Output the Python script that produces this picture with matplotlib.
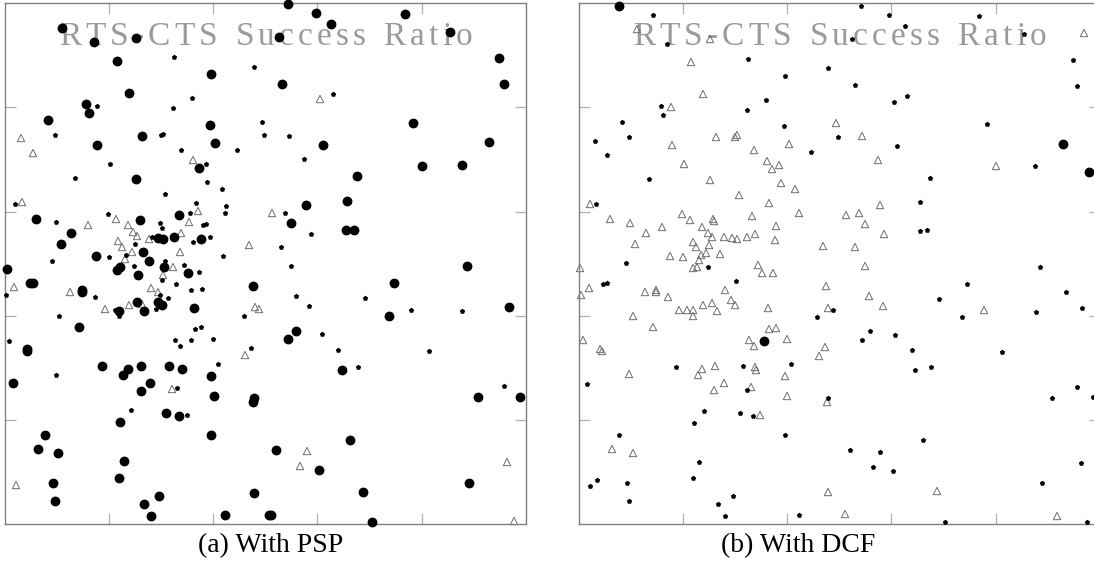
import matplotlib
matplotlib.use("Agg")
import matplotlib.pyplot as plt
import numpy as np

# node positions (simulation area units), panel (a) With PSP
psp_big = [(57,496),(89,482),(131,486),(112,463),(206,450),(124,431),(81,420),(84,411),(43,404),
           (205,399),(137,388),(92,379),(210,381),(194,356),(131,345),(31,305),(135,304),(174,309),
           (66,291),(153,286),(158,285),(169,287),(196,285),(56,280),(138,272),(91,268),(144,263),
           (115,257),(112,254),(159,257),(2,255),(283,520),(311,511),(400,510),(326,500),(445,492),
           (274,487),(494,466),(499,440),(277,440),(408,401),(318,379),(484,382),(417,358),(457,359),
           (352,348),(342,323),(301,319),(286,301),(341,294),(349,294),(462,258),(133,249),(183,251),
           (25,241),(28,241),(77,234),(77,232),(248,238),(114,213),(132,222),(139,213),(153,222),
           (157,219),(189,216),(74,197),(22,175),(22,173),(97,158),(123,155),(118,149),(136,158),
           (164,158),(177,155),(206,148),(8,141),(145,141),(136,133),(209,128),(249,126),(248,122),
           (161,111),(174,108),(115,102),(40,89),(206,89),(33,75),(53,71),(119,63),(114,46),(48,41),
           (50,23),(249,31),(154,28),(139,20),(146,8),(220,9),(264,9),(389,241),(504,217),(384,208),
           (291,193),(283,185),(337,154),(473,127),(515,127),(345,84),(271,74),(314,54),(358,32),
           (464,41),(266,9),(367,2)]
psp_small = [(169,467),(249,457),(187,426),(92,418),(168,416),(257,402),(259,389),(50,389),(156,389),
             (158,390),(176,374),(232,374),(105,360),(201,360),(70,346),(202,342),(217,335),(160,330),
             (10,320),(191,321),(221,318),(220,311),(103,310),(51,302),(185,311),(155,301),(157,296),
             (198,299),(201,300),(147,287),(188,282),(205,287),(130,280),(104,267),(121,269),(218,268),
             (47,263),(129,258),(160,263),(179,259),(328,430),(284,388),(299,365),(280,311),(306,290),
             (276,277),(286,258),(157,244),(194,252),(171,240),(1,229),(90,227),(155,229),(163,226),
             (186,234),(197,235),(110,214),(114,208),(151,215),(239,208),(54,208),(190,195),(196,197),
             (4,183),(170,184),(175,178),(186,184),(208,185),(246,176),(213,160),(51,149),(172,136),
             (126,114),(182,109),(291,228),(304,218),(360,226),(406,214),(457,213),(317,190),(333,174),
             (424,173),(353,157),(499,138)]
psp_tri = [(16,386),(28,371),(188,364),(17,322),(193,313),(111,305),(184,302),(83,299),(123,299),
           (128,292),(132,288),(176,291),(144,285),(113,283),(117,277),(244,279),(175,272),(127,272),
           (120,265),(168,257),(267,311),(315,425),(158,249),(9,237),(65,232),(146,236),(153,232),
           (100,215),(124,219),(137,220),(250,217),(254,215),(240,169),(167,135),(11,39),(302,73),
           (295,58),(502,62),(509,3)]

# panel (b) With DCF
dcf_big = [(40,518),(185,183),(484,380),(510,352)]
dcf_small = [(74,509),(88,480),(169,465),(249,456),(206,448),(187,424),(82,418),(168,414),(84,409),
             (43,402),(205,398),(50,387),(259,387),(16,383),(28,369),(232,372),(70,345),(17,320),
             (47,261),(129,257),(282,518),(310,509),(400,508),(326,498),(273,485),(445,490),(494,464),
             (498,438),(276,439),(315,422),(328,428),(408,400),(318,378),(456,358),(351,346),(341,322),
             (341,293),(348,294),(461,257),(24,240),(28,241),(157,243),(254,214),(238,207),(97,157),
             (164,158),(212,160),(8,140),(168,134),(249,126),(125,113),(161,111),(174,108),(115,101),
             (40,89),(206,89),(120,62),(114,46),(18,44),(11,38),(48,41),(50,23),(154,28),(139,20),
             (146,8),(220,9),(388,240),(360,225),(487,232),(503,216),(457,212),(383,207),(291,193),
             (283,184),(316,189),(333,174),(423,172),(336,154),(352,157),(498,137),(473,126),(514,127),
             (344,84),(271,74),(301,72),(294,57),(314,53),(502,61),(463,41),(366,2),(508,2)]
dcf_tri = [(58,495),(131,485),(112,462),(124,430),(92,417),(257,401),(137,387),(156,387),(158,389),
           (93,379),(210,380),(175,374),(105,360),(188,363),(200,359),(193,355),(131,344),(202,341),
           (216,335),(160,329),(11,320),(190,321),(220,311),(103,310),(173,308),(31,305),(111,304),
           (134,305),(135,303),(51,301),(83,297),(123,297),(197,298),(67,291),(129,291),(133,287),
           (145,287),(153,286),(158,285),(168,287),(176,290),(196,284),(56,280),(114,282),(117,277),
           (130,279),(244,278),(91,268),(104,267),(122,269),(127,271),(141,270),(120,264),(179,259),
           (114,256),(118,257),(1,256),(505,491),(283,388),(299,364),(417,358),(301,319),(267,309),
           (280,311),(286,300),(305,290),(276,277),(286,258),(183,251),(194,251),(10,236),(2,229),
           (66,232),(77,234),(77,232),(89,227),(146,234),(152,224),(156,219),(247,238),(100,214),
           (108,214),(114,214),(114,208),(124,219),(133,221),(138,213),(189,216),(249,216),(54,208),
           (74,197),(190,195),(197,196),(4,184),(170,184),(175,178),(208,185),(21,175),(23,173),
           (246,177),(240,168),(123,155),(119,149),(136,158),(176,157),(177,154),(50,150),(206,148),
           (145,141),(135,134),(172,137),(208,128),(248,122),(181,109),(33,75),(54,71),(249,32),
           (290,228),(304,218),(405,214),(358,33),(266,10),(478,8)]

title = "RTS-CTS Success Ratio"
captions = ["(a) With PSP", "(b) With DCF"]
ticks = [104, 208, 312, 417]

fig = plt.figure(figsize=(10.94, 5.63), dpi=100)
ax1 = fig.add_axes([5/1094, 39/563, 521/1094, 521/563])
ax2 = fig.add_axes([579/1094, 39/563, 521/1094, 521/563])
renderer = fig.canvas.get_renderer()


def spaced_title(ax, x_start, text, total_w):
    # letter-spaced serif title, laid out glyph by glyph in pixels
    items = []
    widths = []
    for ch in text:
        t = ax.text(0, 0, ch if ch != ' ' else 'n', family='Liberation Serif',
                    fontsize=24, color='#9a9a9a', va='baseline', ha='left',
                    transform=None, zorder=1)
        w = t.get_window_extent(renderer).width
        if ch == ' ':
            t.set_text('')
            w *= 0.6
        items.append(t)
        widths.append(w)
    gap = (total_w - sum(widths)) / (len(text) - 1)
    x0_disp = ax.transAxes.transform((0, 0))[0]
    cursor = x0_disp + x_start
    base = ax.transData.transform((0, 479))[1]
    for t, w in zip(items, widths):
        t.set_position((cursor, base))
        cursor += w + gap


panels = [(ax1, psp_big, psp_small, psp_tri),
          (ax2, dcf_big, dcf_small, dcf_tri)]

for ax, big, small, tri in panels:
    ax.set_xlim(0, 521)
    ax.set_ylim(0, 521)
    ax.set_xticks(ticks)
    ax.set_yticks(ticks)
    ax.tick_params(direction='in', length=8, width=0.9, color='#b0b0b0',
                   top=True, right=True, labelbottom=False, labelleft=False)
    for sp in ax.spines.values():
        sp.set_color('#808080')
        sp.set_linewidth(1.0)
    spaced_title(ax, 54, title, 413)
    t = np.array(tri)
    ax.scatter(t[:, 0], t[:, 1], s=28, marker='^', facecolors='none',
               edgecolors='#6e6e6e', linewidths=0.7, zorder=2, clip_on=False)
    sm = np.array(small)
    ax.scatter(sm[:, 0], sm[:, 1], s=16, marker='p', color='black', linewidths=0,
               zorder=3, clip_on=False)
    b = np.array(big)
    ax.scatter(b[:, 0], b[:, 1], s=50, marker='o', color='black', linewidths=0,
               zorder=4, clip_on=False)

fig.text(271/1094, 11/563, captions[0], ha='center', va='baseline',
         family='Liberation Serif', fontsize=20)
fig.text(798/1094, 11/563, captions[1], ha='center', va='baseline',
         family='Liberation Serif', fontsize=20)

fig.savefig("out.png", dpi=100)
